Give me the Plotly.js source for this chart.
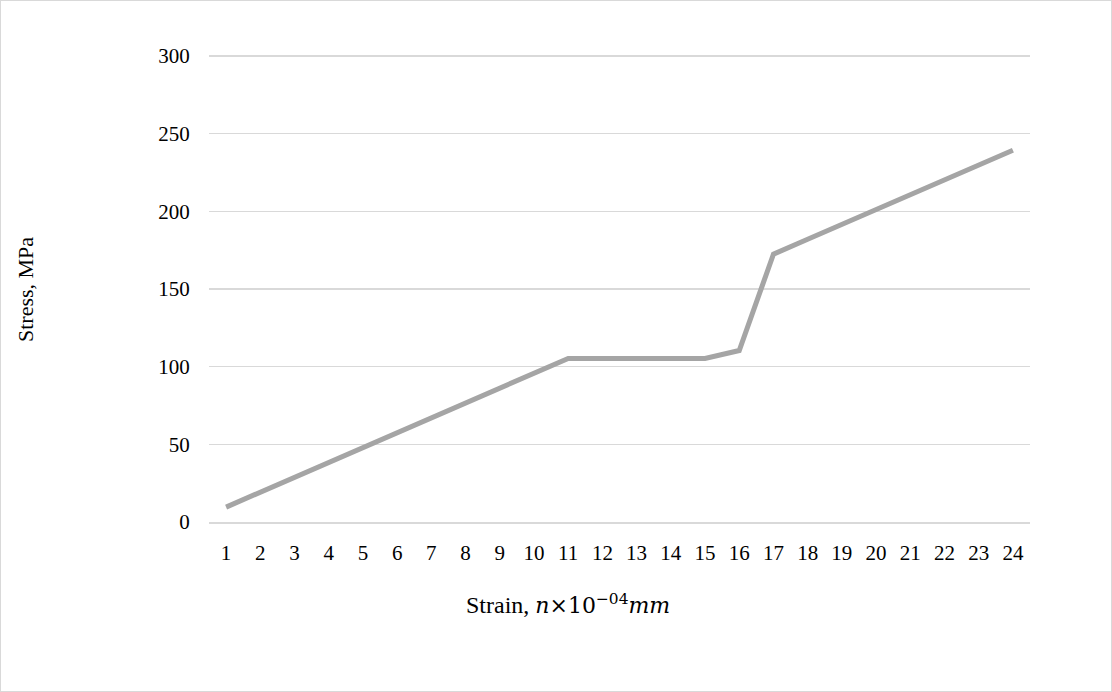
<!DOCTYPE html>
<html>
<head>
<meta charset="utf-8">
<script src="https://cdn.plot.ly/plotly-3.0.1.min.js"></script>
<style>
html,body{margin:0;padding:0;background:#fff;}
#chart{width:1112px;height:692px;position:absolute;left:0;top:0;}
#frame{position:absolute;left:0;top:0;width:1112px;height:692px;box-sizing:border-box;border:1px solid #d9d9d9;pointer-events:none;}
</style>
</head>
<body>
<div id="chart"></div>
<div id="frame"></div>
<script>
const strainLabels = ['1','2','3','4','5','6','7','8','9','10','11','12','13','14','15','16','17','18','19','20','21','22','23','24'];
const stressValues = [9.6, 19.2, 28.8, 38.4, 48, 57.6, 67.2, 76.8, 86.4, 96, 105.3, 105.3, 105.3, 105.3, 105.3, 110.4, 172.4, 182, 191.5, 201, 210.6, 220.2, 229.8, 239.3];
const yTicks = [0, 50, 100, 150, 200, 250, 300];
const xTitle = 'Strain, <span style="font-family:\'DejaVu Serif\',serif;font-size:22px"><i>n</i>×10<sup>−04</sup><i>mm</i></span>';
const yTitle = 'Stress, MPa';

const trace = {
  x: strainLabels,
  y: stressValues,
  type: 'scatter',
  mode: 'lines',
  line: {color: '#A5A5A5', width: 5},
  hoverinfo: 'x+y'
};

const serif = '"Liberation Serif", "Times New Roman", serif';
const font = {family: serif, size: 21, color: '#000'};
const xTitleFont = {family: serif, size: 24, color: '#000'};
const yTitleFont = {family: serif, size: 22, color: '#000'};

const layout = {
  width: 1112,
  height: 692,
  paper_bgcolor: '#fff',
  plot_bgcolor: '#fff',
  margin: {l: 209, r: 82, t: 54, b: 170},
  showlegend: false,
  font: font,
  xaxis: {
    type: 'category',
    range: [-0.5, 23.5],
    showgrid: false,
    zeroline: false,
    showline: true,
    linecolor: '#D9D9D9',
    linewidth: 1.5,
    ticks: 'outside',
    ticklen: 11,
    tickcolor: 'rgba(0,0,0,0)',
    tickfont: font
  },
  yaxis: {
    range: [0, 301.3],
    tickvals: yTicks,
    ticktext: yTicks.map(String),
    showgrid: true,
    gridcolor: '#D9D9D9',
    gridwidth: 1.5,
    zeroline: false,
    showline: false,
    ticks: 'outside',
    ticklen: 14,
    tickcolor: 'rgba(0,0,0,0)',
    tickfont: font
  },
  annotations: [
    {text: xTitle, xref: 'paper', yref: 'paper', x: (568 - 209) / 821, y: 0,
     xanchor: 'center', yanchor: 'middle', yshift: -82, showarrow: false, font: xTitleFont},
    {text: yTitle, xref: 'paper', yref: 'paper', x: 0, y: (522 - 290) / 468,
     xanchor: 'center', yanchor: 'middle', xshift: -184, textangle: -90, showarrow: false, font: yTitleFont}
  ]
};

Plotly.newPlot('chart', [trace], layout, {displayModeBar: false, staticPlot: true});
</script>
</body>
</html>
